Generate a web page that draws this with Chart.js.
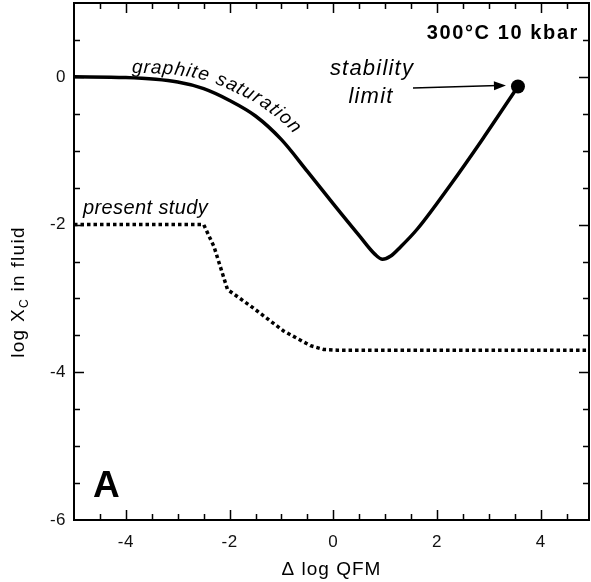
<!DOCTYPE html>
<html>
<head>
<meta charset="utf-8">
<script src="https://cdn.jsdelivr.net/npm/chart.js@4.4.1/dist/chart.umd.min.js"></script>
<style>
  html, body { margin: 0; padding: 0; background: #fff; }
  canvas { display: block; }
</style>
</head>
<body>
<canvas id="c" width="591" height="582"></canvas>
<script>
// ---- data ----
const graphiteX = [-5, -4, -3, -2.5, -2, -1.5, -1, -0.5, 0, 0.5, 0.8, 0.95, 1.1, 1.3, 1.62, 2.25, 2.88, 3.56];
const graphiteY = [0, -0.01, -0.07, -0.16, -0.32, -0.53, -0.85, -1.28, -1.72, -2.15, -2.4, -2.47, -2.43, -2.3, -2.06, -1.47, -0.84, -0.13];
const studyX = [-5, -2.5, -2.3, -2.04, -1.6, -0.96, -0.44, -0.19, 0.07, 4.93];
const studyY = [-2, -2, -2.3, -2.88, -3.1, -3.44, -3.64, -3.69, -3.7, -3.7];
const limitX = [3.56];
const limitY = [-0.13];
const xTickLabels = [-4, -2, 0, 2, 4];
const yTickLabels = [-6, -4, -2, 0];
const xRange = [-5, 4.93];
const yRange = [-6, 1];

const FAM = '"Liberation Sans", Arial, Helvetica, sans-serif';
const pts = (xs, ys) => xs.map((x, i) => ({ x, y: ys[i] }));

const framePlugin = {
  id: 'frame',
  beforeDraw(chart) { chart.ctx.letterSpacing = '0.5px'; },
  afterDraw(chart) {
    const { ctx, chartArea: a, scales: { x, y } } = chart;
    ctx.save();
    ctx.letterSpacing = '0px';
    ctx.strokeStyle = '#000';
    // frame
    ctx.lineWidth = 2;
    ctx.strokeRect(a.left, a.top, a.right - a.left, a.bottom - a.top);
    // inward ticks
    ctx.lineWidth = 1.5;
    ctx.beginPath();
    for (let v = -4.5; v <= 4.5 + 1e-9; v += 0.5) {
      const px = Math.round(x.getPixelForValue(v)) + 0.5;
      const L = xTickLabels.includes(v) ? 10 : 6;
      ctx.moveTo(px, a.bottom); ctx.lineTo(px, a.bottom - L);
      ctx.moveTo(px, a.top); ctx.lineTo(px, a.top + L);
    }
    for (let v = -5.5; v <= 0.5 + 1e-9; v += 0.5) {
      const py = Math.round(y.getPixelForValue(v)) + 0.5;
      const L = yTickLabels.includes(v) ? 10 : 6;
      ctx.moveTo(a.left, py); ctx.lineTo(a.left + L, py);
      ctx.moveTo(a.right, py); ctx.lineTo(a.right - L, py);
    }
    ctx.stroke();

    ctx.fillStyle = '#000';
    // x title
    ctx.font = '19px ' + FAM;
    ctx.letterSpacing = '1px';
    ctx.textAlign = 'center';
    ctx.textBaseline = 'alphabetic';
    ctx.fillText('\u0394 log QFM', (a.left + a.right) / 2, 575);

    // y title with subscript
    ctx.save();
    ctx.translate(24, 292);
    ctx.rotate(-Math.PI / 2);
    ctx.textAlign = 'left';
    ctx.letterSpacing = '1.3px';
    const big = '19px ' + FAM, small = '12px ' + FAM;
    ctx.font = big; const w1 = ctx.measureText('log X').width;
    ctx.font = small; const w2 = ctx.measureText('C').width;
    ctx.font = big; const w3 = ctx.measureText(' in fluid').width;
    let sx = -(w1 + w2 + w3) / 2;
    ctx.font = big; ctx.fillText('log X', sx, 0);
    ctx.font = small; ctx.fillText('C', sx + w1, 4);
    ctx.font = big; ctx.fillText(' in fluid', sx + w1 + w2, 0);
    ctx.restore();

    // top right condition label
    ctx.font = 'bold 20px ' + FAM;
    ctx.letterSpacing = '1.6px';
    ctx.textAlign = 'right';
    ctx.fillText('300\u00B0C 10 kbar', 579, 39);

    // panel letter
    ctx.font = 'bold 37px ' + FAM;
    ctx.letterSpacing = '0px';
    ctx.textAlign = 'left';
    ctx.fillText('A', 93, 497);

    // present study
    ctx.font = 'italic 20px ' + FAM;
    ctx.letterSpacing = '0.4px';
    ctx.textAlign = 'left';
    ctx.fillText('present study', 83, 214);

    // stability limit
    ctx.font = 'italic 22px ' + FAM;
    ctx.letterSpacing = '1.2px';
    ctx.textAlign = 'center';
    ctx.fillText('stability', 372, 75);
    ctx.fillText('limit', 371, 103);

    // arrow to the limit point
    const tipX = x.getPixelForValue(limitX[0]) - 12, tipY = y.getPixelForValue(limitY[0]) - 1;
    const tailX = 413, tailY = 88;
    ctx.lineWidth = 1.5;
    ctx.beginPath(); ctx.moveTo(tailX, tailY); ctx.lineTo(tipX - 8, tipY); ctx.stroke();
    const ang = Math.atan2(tipY - tailY, tipX - tailX);
    ctx.beginPath();
    ctx.moveTo(tipX, tipY);
    ctx.lineTo(tipX - 12 * Math.cos(ang) + 4.5 * Math.sin(ang), tipY - 12 * Math.sin(ang) - 4.5 * Math.cos(ang));
    ctx.lineTo(tipX - 12 * Math.cos(ang) - 4.5 * Math.sin(ang), tipY - 12 * Math.sin(ang) + 4.5 * Math.cos(ang));
    ctx.closePath(); ctx.fill();

    // "graphite saturation" along the curve
    const meta = chart.getDatasetMeta(0).data;
    const path = [];
    for (let i = 0; i < meta.length - 1; i++) {
      const p = meta[i], q = meta[i + 1];
      const c1x = p.cp2x ?? p.x, c1y = p.cp2y ?? p.y, c2x = q.cp1x ?? q.x, c2y = q.cp1y ?? q.y;
      for (let k = 0; k < 20; k++) {
        const t = k / 20, u = 1 - t;
        path.push({
          x: u*u*u*p.x + 3*u*u*t*c1x + 3*u*t*t*c2x + t*t*t*q.x,
          y: u*u*u*p.y + 3*u*u*t*c1y + 3*u*t*t*c2y + t*t*t*q.y
        });
      }
    }
    const cum = [0];
    for (let i = 1; i < path.length; i++) cum.push(cum[i-1] + Math.hypot(path[i].x - path[i-1].x, path[i].y - path[i-1].y));
    const at = (s) => {
      let i = 1; while (i < path.length - 1 && cum[i] < s) i++;
      const p = path[i-1], q = path[i];
      const f = (s - cum[i-1]) / Math.max(1e-6, cum[i] - cum[i-1]);
      const dx = q.x - p.x, dy = q.y - p.y, l = Math.hypot(dx, dy) || 1;
      return { x: p.x + f * dx, y: p.y + f * dy, tx: dx / l, ty: dy / l };
    };
    let s0 = 0; for (let i = 0; i < path.length; i++) { if (path[i].x >= 131) { s0 = cum[i]; break; } }
    ctx.font = 'italic 19px ' + FAM;
    ctx.letterSpacing = '0px';
    ctx.textAlign = 'center';
    const label = 'graphite saturation';
    let s = s0, idx = 0;
    for (const ch of label) {
      const w = ctx.measureText(ch).width + 0.8;
      const r = at(s + w / 2);
      const off = 5 + 8 * (idx / (label.length - 1));
      ctx.save();
      ctx.translate(r.x + r.ty * off, r.y - r.tx * off);
      ctx.rotate(Math.atan2(r.ty, r.tx));
      ctx.fillText(ch, 0, 0);
      ctx.restore();
      s += w; idx++;
    }
    ctx.restore();
  }
};

new Chart(document.getElementById('c'), {
  type: 'scatter',
  data: {
    datasets: [
      { label: 'graphite saturation', data: pts(graphiteX, graphiteY), showLine: true,
        borderColor: '#000', borderWidth: 3.5, pointRadius: 0, cubicInterpolationMode: 'monotone', fill: false },
      { label: 'present study', data: pts(studyX, studyY), showLine: true,
        borderColor: '#000', borderWidth: 3.5, borderDash: [3.5, 3], borderCapStyle: 'butt', pointRadius: 0, tension: 0, fill: false },
      { label: 'stability limit', data: pts(limitX, limitY), showLine: false,
        pointRadius: 7, backgroundColor: '#000', borderColor: '#000', borderWidth: 0 }
    ]
  },
  options: {
    responsive: false, animation: false, devicePixelRatio: 1,
    layout: { autoPadding: false, padding: { top: 3, right: 2, left: 0, bottom: 0 } },
    plugins: { legend: { display: false }, tooltip: { enabled: false } },
    scales: {
      x: {
        type: 'linear', min: xRange[0], max: xRange[1],
        afterBuildTicks: s => { s.ticks = xTickLabels.map(v => ({ value: v })); },
        afterFit: s => { s.height = 62; s.paddingLeft = 0; s.paddingRight = 0; },
        grid: { display: false, drawTicks: false }, border: { display: false },
        ticks: { padding: 12, color: '#111', font: { size: 17, family: FAM }, callback: v => String(v), maxRotation: 0 }
      },
      y: {
        type: 'linear', min: yRange[0], max: yRange[1],
        afterBuildTicks: s => { s.ticks = yTickLabels.map(v => ({ value: v })); },
        afterFit: s => { s.width = 74; s.paddingTop = 0; s.paddingBottom = 0; },
        grid: { display: false, drawTicks: false }, border: { display: false },
        ticks: { padding: 8, color: '#111', font: { size: 17, family: FAM }, callback: v => String(v) }
      }
    }
  },
  plugins: [framePlugin]
});
</script>
</body>
</html>
